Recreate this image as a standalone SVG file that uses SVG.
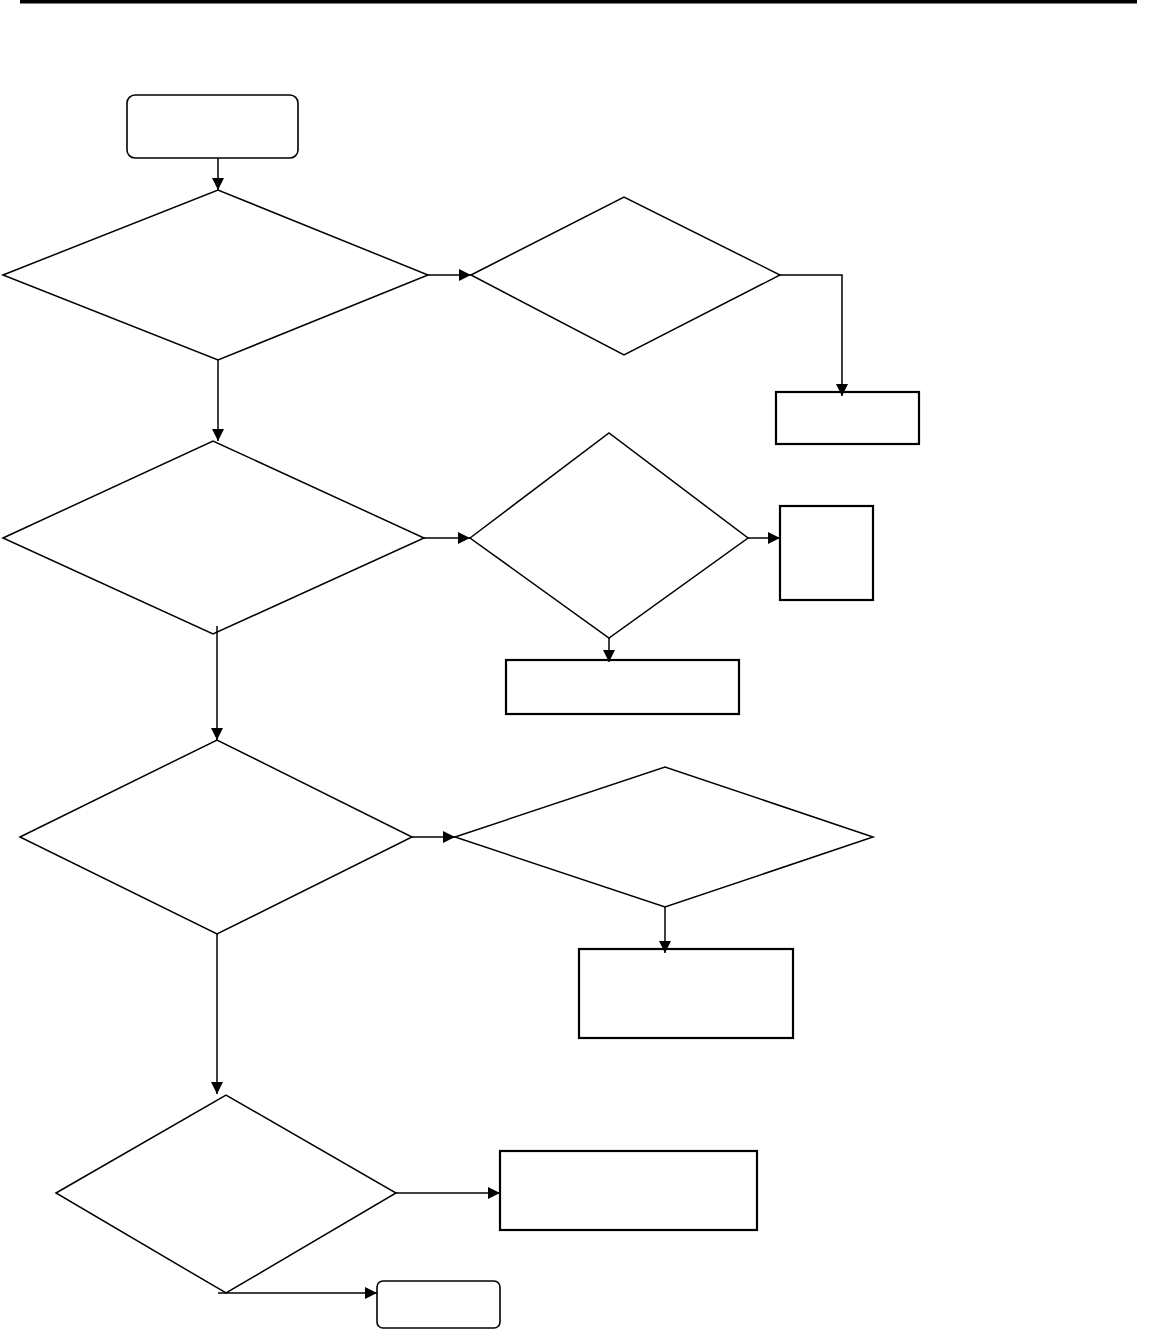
<svg xmlns="http://www.w3.org/2000/svg" width="1158" height="1330" viewBox="0 0 1158 1330">
<style>
.dia{fill:#fff;stroke:#000;stroke-width:1.5}
.box{fill:#fff;stroke:#000;stroke-width:2.2}
.rnd{fill:#fff;stroke:#000;stroke-width:1.6}
.con{fill:none;stroke:#000;stroke-width:1.5}
</style>
<defs>
<marker id="ah" markerUnits="userSpaceOnUse" markerWidth="14" markerHeight="14" viewBox="0 0 14 14" refX="13" refY="7" orient="auto">
<path d="M1,1 L13,7 L1,13 Z" fill="#000"/>
</marker>
</defs>
<rect x="20" y="0" width="1117" height="3.5" fill="#000"/>
<g id="start"><rect class="rnd" x="127" y="95" width="171" height="63" rx="8"/></g>
<g id="d1"><polygon class="dia" points="3,275 218,190 428,275 218,360"/></g>
<g id="d2"><polygon class="dia" points="471,275 624,197 780,275 624,355"/></g>
<g id="r1"><rect class="box" x="776" y="392" width="143" height="52"/></g>
<g id="d3"><polygon class="dia" points="3,538 213,441 424,538 213,634"/></g>
<g id="d4"><polygon class="dia" points="470,538 609,433 748,538 609,638"/></g>
<g id="r2"><rect class="box" x="780" y="506" width="93" height="94"/></g>
<g id="r3"><rect class="box" x="506" y="660" width="233" height="54"/></g>
<g id="d5"><polygon class="dia" points="20,837 217,740 412,837 217,934"/></g>
<g id="d6"><polygon class="dia" points="455,837 665,767 873,837 665,907"/></g>
<g id="r4"><rect class="box" x="579" y="949" width="214" height="89"/></g>
<g id="d7"><polygon class="dia" points="56,1193 226,1095 396,1193 226,1293"/></g>
<g id="r5"><rect class="box" x="500" y="1151" width="257" height="79"/></g>
<g id="end"><rect class="rnd" x="377" y="1281" width="123" height="47" rx="6"/></g>
<g id="connectors">
<path class="con" d="M218,158 L218,190" marker-end="url(#ah)"/>
<path class="con" d="M428,275 L471,275" marker-end="url(#ah)"/>
<path class="con" d="M780,275 L842,275 L842,396" marker-end="url(#ah)"/>
<path class="con" d="M218,360 L218,441" marker-end="url(#ah)"/>
<path class="con" d="M424,538 L470,538" marker-end="url(#ah)"/>
<path class="con" d="M748,538 L780,538" marker-end="url(#ah)"/>
<path class="con" d="M609,638 L609,662" marker-end="url(#ah)"/>
<path class="con" d="M217,626 L217,740" marker-end="url(#ah)"/>
<path class="con" d="M412,837 L455,837" marker-end="url(#ah)"/>
<path class="con" d="M665,907 L665,953" marker-end="url(#ah)"/>
<path class="con" d="M217,934 L217,1094" marker-end="url(#ah)"/>
<path class="con" d="M396,1193 L500,1193" marker-end="url(#ah)"/>
<path class="con" d="M218,1293 L377,1293" marker-end="url(#ah)"/>
</g>
</svg>
